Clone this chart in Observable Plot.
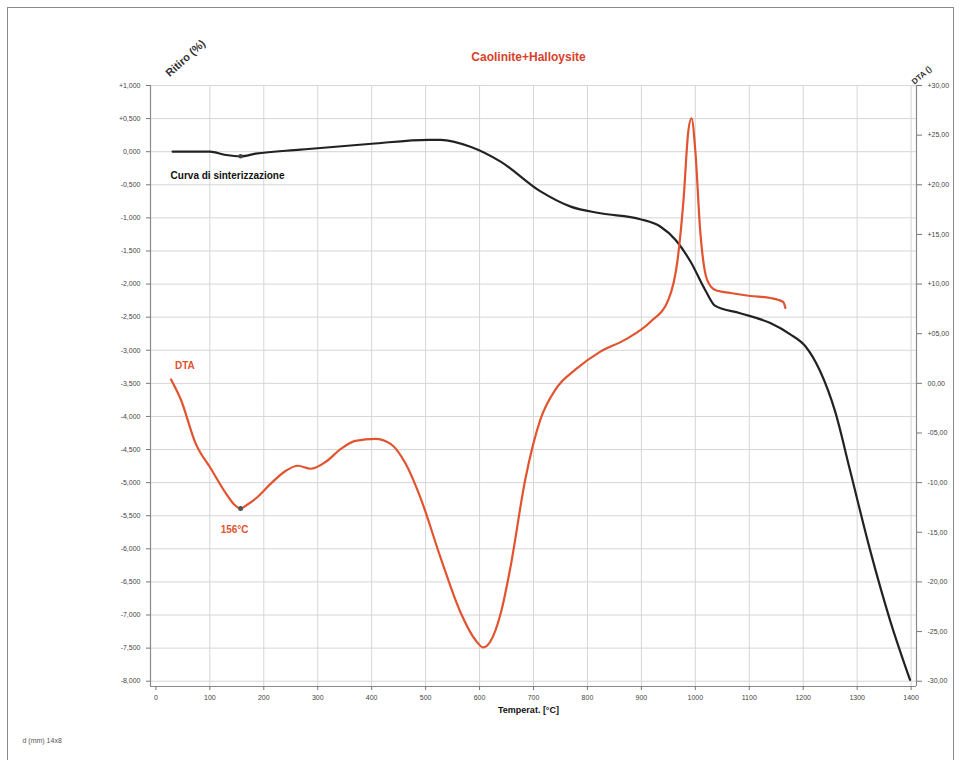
<!DOCTYPE html>
<html>
<head>
<meta charset="utf-8">
<script src="https://cdn.jsdelivr.net/npm/d3@7"></script>
<script src="https://cdn.jsdelivr.net/npm/@observablehq/plot@0.6"></script>
<style>
  html, body { margin: 0; padding: 0; background: #fff; }
  #wrap { position: relative; width: 963px; height: 760px; overflow: hidden; }
  #border { position: absolute; left: 7px; top: 7px; width: 947px; height: 760px; border: 1px solid #8a8a8a; box-sizing: border-box; }
  #chart { position: absolute; left: 0; top: 0; }
</style>
</head>
<body>
<div id="wrap"><div id="border"></div><div id="chart"></div></div>
<script>
// ---- data ----
const sintTemp = [31, 100, 130, 157, 185, 268, 400, 505, 528, 583, 639, 713, 769, 824, 898, 935, 963, 991, 1019, 1037, 1083, 1139, 1176, 1204, 1231, 1259, 1287, 1324, 1361, 1398];
const sintVal  = [0.00, 0.00, -0.05, -0.07, -0.03, 0.03, 0.12, 0.18, 0.18, 0.075, -0.15, -0.60, -0.83, -0.93, -1.02, -1.13, -1.33, -1.66, -2.10, -2.33, -2.44, -2.59, -2.76, -2.94, -3.31, -3.92, -4.82, -6.02, -7.08, -7.98];

const dtaTemp = [28, 46, 74, 102, 130, 145, 157, 170, 185, 213, 241, 263, 287, 315, 343, 370, 407, 435, 463, 491, 528, 565, 593, 607, 620, 640, 657, 685, 713, 741, 778, 824, 870, 917, 950, 967, 978, 987, 993, 1000, 1009, 1022, 1037, 1065, 1102, 1139, 1163, 1167];
const dtaVal  = [0.4, -1.6, -6.1, -8.6, -11.1, -12.2, -12.6, -12.2, -11.6, -10.1, -8.8, -8.3, -8.6, -7.9, -6.6, -5.8, -5.6, -6.1, -8.1, -11.6, -17.6, -23.1, -25.9, -26.6, -26.0, -23.0, -18.6, -9.6, -3.6, -0.6, 1.4, 3.2, 4.4, 6.2, 8.4, 12.4, 18.4, 25.4, 26.7, 23.4, 15.4, 10.4, 9.4, 9.1, 8.8, 8.6, 8.2, 7.6];

const xTicks = [0, 100, 200, 300, 400, 500, 600, 700, 800, 900, 1000, 1100, 1200, 1300, 1400];
const leftTicks = [1, 0.5, 0, -0.5, -1, -1.5, -2, -2.5, -3, -3.5, -4, -4.5, -5, -5.5, -6, -6.5, -7, -7.5, -8];
const rightTicks = [30, 25, 20, 15, 10, 5, 0, -5, -10, -15, -20, -25, -30];

const titleText = "Caolinite+Halloysite";
const xLabel = "Temperat. [°C]";
const leftLabel = "Ritiro (%)";
const rightLabel = "DTA ()";
const sintLabel = "Curva di sinterizzazione";
const dtaLabel = "DTA";
const peakLabel = "156°C";
const footer = "d (mm) 14x8";

// DTA (right axis) -> left axis units
const toLeft = v => -3.5 + v * 0.15;

const sint = sintTemp.map((t, i) => ({t, v: sintVal[i]}));
const dta = dtaTemp.map((t, i) => ({t, v: toLeft(dtaVal[i])}));
const dtaLowT = dta.filter(d => d.t < 300);
const dtaMin = dtaLowT.reduce((a, b) => (b.v < a.v ? b : a));
const sintDip = sint[3];

const fmtLeft = v => (v > 0 ? "+" : v < 0 ? "-" : "") + Math.abs(v).toFixed(3).replace(".", ",");
const fmtRight = v => (v > 0 ? "+" : v < 0 ? "-" : "") + String(Math.abs(v)).padStart(2, "0") + ",00";
const rightMap = new Map(rightTicks.map(r => [toLeft(r), r]));

const red = "#e2532f";
const grid = "#d6d6d6";
const font = "Liberation Sans, Arial, sans-serif";

const chart = Plot.plot({
  width: 963,
  height: 760,
  marginLeft: 150,
  marginRight: 47,
  marginTop: 85,
  marginBottom: 74,
  style: {fontFamily: font, background: "transparent", overflow: "visible", color: "#444"},
  x: {domain: [-10, 1410], axis: null},
  y: {domain: [-8.08, 1.0], axis: null},
  marks: [
    Plot.ruleX(xTicks.slice(1), {stroke: grid, strokeWidth: 1}),
    Plot.ruleY(leftTicks, {stroke: grid, strokeWidth: 1}),
    Plot.ruleX([-10, 1410], {stroke: "#8a8a8a", strokeWidth: 1.2}),
    Plot.ruleY([-8.08], {stroke: "#8a8a8a", strokeWidth: 1.2}),
    Plot.axisX({ticks: xTicks, tickFormat: d => String(d), fontSize: 7, tickSize: 4, tickPadding: 5, stroke: "#777", fill: "#444", label: null}),
    Plot.axisY({ticks: leftTicks, anchor: "left", tickFormat: fmtLeft, fontSize: 7, tickSize: 4, tickPadding: 6, stroke: "#777", fill: "#444", label: null}),
    Plot.axisY({ticks: Array.from(rightMap.keys()), anchor: "right", tickFormat: v => fmtRight(rightMap.get(v)), fontSize: 7, tickSize: 5, tickPadding: 6, stroke: "#777", fill: "#444", label: null}),
    Plot.line(sint, {x: "t", y: "v", stroke: "#222", strokeWidth: 2.2, curve: "monotone-x"}),
    Plot.line(dta, {x: "t", y: "v", stroke: red, strokeWidth: 2.2, curve: "monotone-x"}),
    Plot.dot([dtaMin], {x: "t", y: "v", r: 2.5, fill: "#555"}),
    Plot.dot([sintDip], {x: "t", y: "v", r: 2.2, fill: "#444"}),
    Plot.text([sint[0]], {x: "t", y: "v", text: () => sintLabel, textAnchor: "start", dx: -2, dy: 24, fontSize: 10, fontWeight: "bold", fill: "#111"}),
    Plot.text([dta[0]], {x: "t", y: "v", text: () => dtaLabel, textAnchor: "start", dx: 4, dy: -14, fontSize: 10, fontWeight: "bold", fill: red}),
    Plot.text([dtaMin], {x: "t", y: "v", text: () => peakLabel, textAnchor: "middle", dx: -6, dy: 21, fontSize: 10, fontWeight: "bold", fill: red}),
    Plot.text([titleText], {frameAnchor: "top", dx: -5, dy: -33, fontSize: 12, fontWeight: "bold", fill: "#d9412b"}),
    Plot.text([xLabel], {frameAnchor: "bottom", dx: -5, dy: 26, fontSize: 9, fontWeight: "bold", fill: "#111"}),
    Plot.text([leftLabel], {frameAnchor: "top-left", dx: 14, dy: -14, rotate: -42, fontSize: 11, fontWeight: "bold", fill: "#333"}),
    Plot.text([rightLabel], {frameAnchor: "top-right", dx: 12, dy: -20, rotate: -40, fontSize: 8, fontWeight: "bold", fill: "#333"}),
    Plot.text([footer], {frameAnchor: "bottom-left", dx: -128, dy: 56, textAnchor: "start", fontSize: 7, fill: "#555"})
  ]
});
document.getElementById("chart").appendChild(chart);
</script>
</body>
</html>
